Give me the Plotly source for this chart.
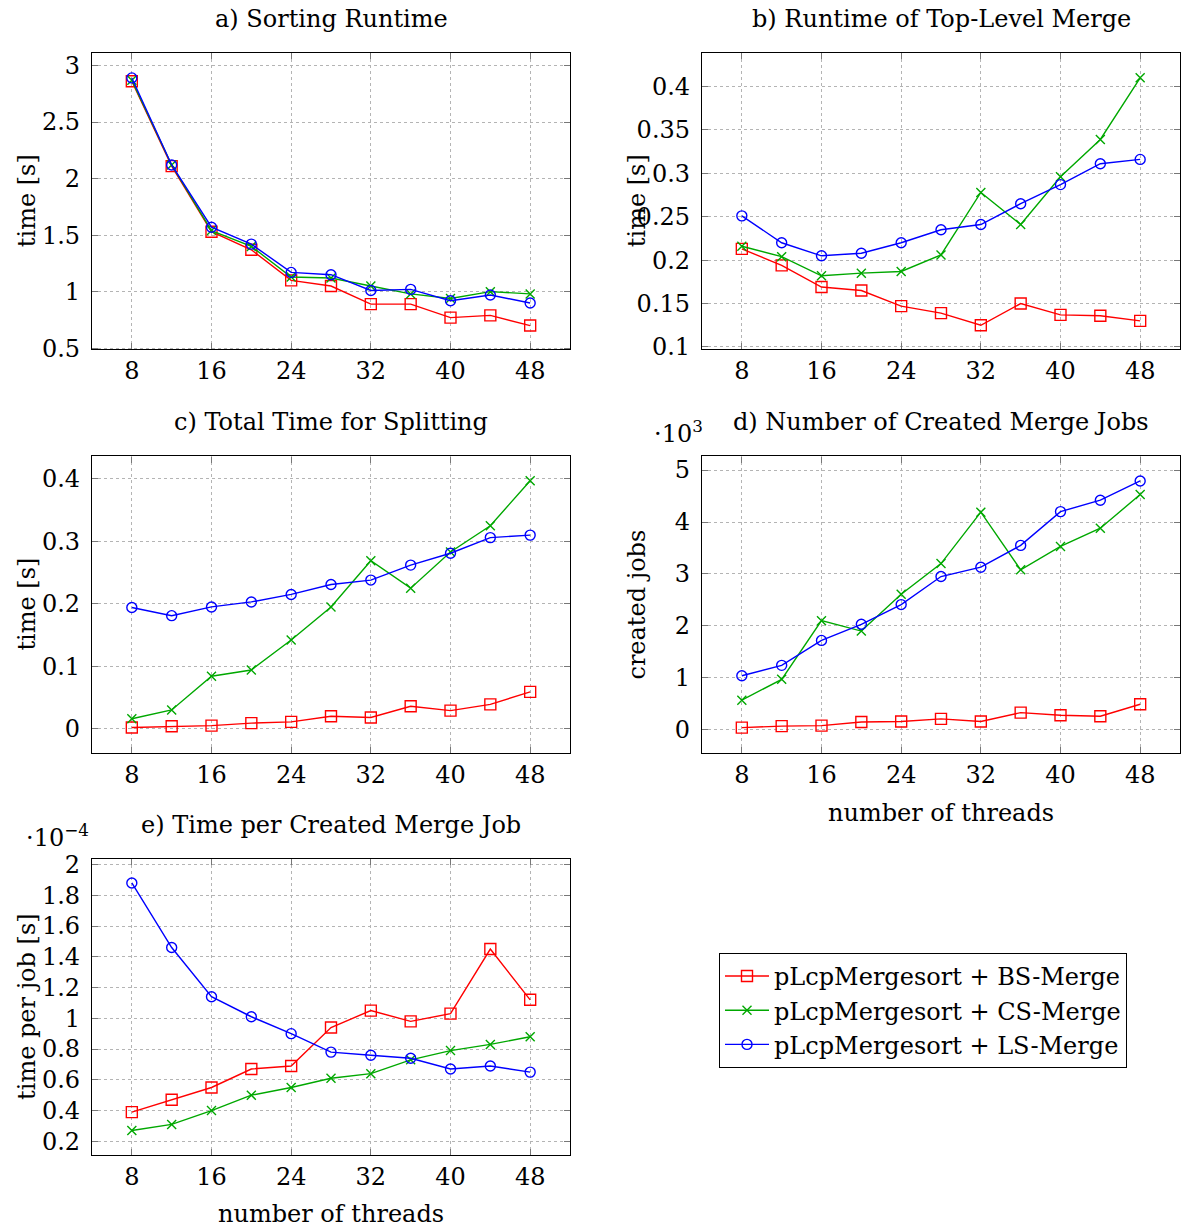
# five pgfplots-style panels: sorting runtime, merge stats for pLcpMergesort variants

import plotly.graph_objects as go
from plotly.subplots import make_subplots

threads = [8, 12, 16, 20, 24, 28, 32, 36, 40, 44, 48]
series_names = [
    "pLcpMergesort + BS-Merge",
    "pLcpMergesort + CS-Merge",
    "pLcpMergesort + LS-Merge",
]

# a) sorting runtime [s]
sort_bs = [2.86, 2.11, 1.53, 1.37, 1.10, 1.05, 0.89, 0.89, 0.77, 0.79, 0.70]
sort_cs = [2.87, 2.12, 1.54, 1.40, 1.13, 1.12, 1.05, 0.98, 0.94, 1.00, 0.98]
sort_ls = [2.89, 2.12, 1.57, 1.42, 1.17, 1.15, 1.01, 1.02, 0.92, 0.97, 0.90]

# b) runtime of top-level merge [s]
top_bs = [0.213, 0.194, 0.169, 0.165, 0.147, 0.139, 0.125, 0.150, 0.137, 0.136, 0.130]
top_cs = [0.216, 0.204, 0.182, 0.185, 0.187, 0.206, 0.278, 0.241, 0.296, 0.339, 0.410]
top_ls = [0.251, 0.220, 0.205, 0.208, 0.220, 0.235, 0.241, 0.265, 0.287, 0.311, 0.316]

# c) total time for splitting [s]
split_bs = [0.002, 0.004, 0.005, 0.009, 0.011, 0.020, 0.018, 0.036, 0.029, 0.039, 0.059]
split_cs = [0.016, 0.030, 0.084, 0.094, 0.142, 0.195, 0.269, 0.225, 0.283, 0.325, 0.397]
split_ls = [0.194, 0.181, 0.195, 0.203, 0.215, 0.231, 0.238, 0.262, 0.281, 0.306, 0.310]

# d) number of created merge jobs [x 10^3]
jobs_bs = [0.04, 0.07, 0.08, 0.15, 0.16, 0.21, 0.16, 0.33, 0.28, 0.26, 0.49]
jobs_cs = [0.57, 0.97, 2.10, 1.90, 2.61, 3.20, 4.19, 3.08, 3.53, 3.88, 4.53]
jobs_ls = [1.04, 1.24, 1.72, 2.03, 2.41, 2.95, 3.13, 3.55, 4.20, 4.42, 4.79]

# e) time per created merge job [s, x 10^-4]
perjob_bs = [0.39, 0.47, 0.55, 0.67, 0.69, 0.94, 1.05, 0.98, 1.03, 1.45, 1.12]
perjob_cs = [0.27, 0.31, 0.40, 0.50, 0.55, 0.61, 0.64, 0.73, 0.79, 0.83, 0.88]
perjob_ls = [1.88, 1.46, 1.14, 1.01, 0.90, 0.78, 0.76, 0.74, 0.67, 0.69, 0.65]

x_ticks = [8, 16, 24, 32, 40, 48]
a_ticks = [0.5, 1, 1.5, 2, 2.5, 3]
b_ticks = [0.1, 0.15, 0.2, 0.25, 0.3, 0.35, 0.4]
c_ticks = [0, 0.1, 0.2, 0.3, 0.4]
d_ticks = [0, 1, 2, 3, 4, 5]
e_ticks = [0.2, 0.4, 0.6, 0.8, 1, 1.2, 1.4, 1.6, 1.8, 2]

panels = [
    ("a) Sorting Runtime", "time [s]", (sort_bs, sort_cs, sort_ls), a_ticks),
    ("b) Runtime of Top-Level Merge", "time [s]", (top_bs, top_cs, top_ls), b_ticks),
    ("c) Total Time for Splitting", "time [s]", (split_bs, split_cs, split_ls), c_ticks),
    ("d) Number of Created Merge Jobs", "created jobs", (jobs_bs, jobs_cs, jobs_ls), d_ticks),
    ("e) Time per Created Merge Job", "time per job [s]", (perjob_bs, perjob_cs, perjob_ls), e_ticks),
]

FONT = "DejaVu Serif"
FS = 24
W, H = 1185, 1229
# the capture comes out slightly squeezed vertically (top offset ~8px, ~0.982 scale);
# place things so they land where the reference has them
Y_OFF, Y_SCALE = 8, 0.982


def px(x):
    return min(max(x / W, 0), 1)


def py(y):
    return min(max(1 - ((y - Y_OFF) / Y_SCALE) / H, 0), 1)


colors = ["#ff0000", "#00a800", "#0000ff"]
symbols = ["square-open", "x-thin-open", "circle-open"]
msizes = [11, 9, 10]

# panel boxes in page pixels: left, right, top, bottom
boxes = [
    (92, 570, 53, 349),
    (702, 1180, 53, 349),
    (92, 570, 456, 752),
    (702, 1180, 456, 752),
    (92, 570, 858, 1154),
]
y_ranges = [(0.49, 3.11), (0.0973, 0.4385), (-0.0384, 0.436), (-0.442, 5.263), (0.1106, 2.037)]
cells = [(1, 1), (1, 2), (2, 1), (2, 2), (3, 1)]

fig = make_subplots(rows=3, cols=2, specs=[[{}, {}], [{}, {}], [{}, None]])

for p, (title, ylab, data, yt) in enumerate(panels):
    r, c = cells[p]
    for k in range(3):
        fig.add_trace(
            go.Scatter(
                x=threads,
                y=data[k],
                name=series_names[k],
                mode="lines+markers",
                line=dict(color=colors[k], width=1.4),
                marker=dict(symbol=symbols[k], size=msizes[k], color=colors[k],
                            line=dict(width=1.4, color=colors[k])),
                showlegend=(p == 0),
            ),
            row=r, col=c,
        )

annotations = []
for p, (title, ylab, data, yt) in enumerate(panels):
    l, rgt, t, b = boxes[p]
    sfx = "" if p == 0 else str(p + 1)
    axis_common = dict(
        showline=True, linecolor="black", linewidth=1.3, mirror="ticks",
        ticks="inside", ticklen=6, tickcolor="#777777", tickwidth=1,
        showgrid=True, gridcolor="#b4b4b4", griddash="dot", gridwidth=1,
        zeroline=False, tickfont=dict(family=FONT, size=FS, color="black"),
    )
    fig.layout["xaxis" + sfx].update(
        domain=[px(l), px(rgt)], range=[4, 52], tickvals=x_ticks,
        ticktext=[str(v) for v in x_ticks], ticklabelstandoff=0, **axis_common,
    )
    fig.layout["yaxis" + sfx].update(
        domain=[py(b), py(t)], range=list(y_ranges[p]), tickvals=yt,
        ticktext=[("%g" % v) for v in yt], ticklabelstandoff=6, **axis_common,
    )
    cx = (l + rgt) / 2
    annotations.append(dict(
        text=title, x=px(cx), y=py(t - 34), xref="paper", yref="paper",
        xanchor="center", yanchor="middle", showarrow=False,
        font=dict(family=FONT, size=FS, color="black"),
    ))
    ylab_x = 27 if l < 300 else 637
    annotations.append(dict(
        text=ylab, x=px(ylab_x), y=py((t + b) / 2), xref="paper", yref="paper",
        xanchor="center", yanchor="middle", textangle=-90, showarrow=False,
        font=dict(family=FONT, size=FS, color="black"),
    ))

# x axis labels under the bottom panel of each column
for cx, y in [(941, 812), (331, 1213)]:
    annotations.append(dict(
        text="number of threads", x=px(cx), y=py(y), xref="paper", yref="paper",
        xanchor="center", yanchor="middle", showarrow=False,
        font=dict(family=FONT, size=FS, color="black"),
    ))

# scale factors
annotations.append(dict(
    text="·10<sup>3</sup>", x=px(678), y=py(432), xref="paper", yref="paper",
    xanchor="center", yanchor="middle", showarrow=False,
    font=dict(family=FONT, size=FS, color="black"),
))
annotations.append(dict(
    text="·10<sup>−4</sup>", x=px(57), y=py(835), xref="paper", yref="paper",
    xanchor="center", yanchor="middle", showarrow=False,
    font=dict(family=FONT, size=FS, color="black"),
))

fig.update_layout(
    width=W, height=H,
    margin=dict(l=0, r=0, t=0, b=0),
    paper_bgcolor="white", plot_bgcolor="white",
    annotations=annotations,
    font=dict(family=FONT, size=FS, color="black"),
    legend=dict(
        x=px(719), y=py(952), xanchor="left", yanchor="top",
        bordercolor="black", borderwidth=1, bgcolor="white",
        font=dict(family=FONT, size=FS, color="black"),
        tracegroupgap=0, itemwidth=44,
    ),
)

# pin the figure to the window corner so it fills the 1185x1229 view exactly
pin = (
    "document.body.style.margin='0';"
    "document.body.style.overflow='hidden';"
    "var gd=document.getElementById('{plot_id}');"
    "gd.style.position='fixed';gd.style.left='0';gd.style.top='0';"
)
fig.write_html("out.html", config={"displayModeBar": False}, post_script=pin)
